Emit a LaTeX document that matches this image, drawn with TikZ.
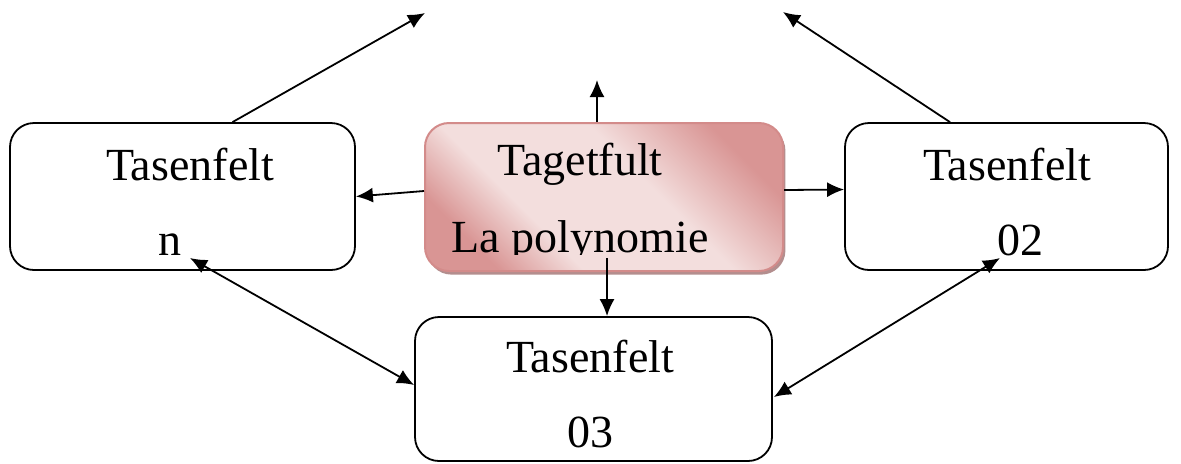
\documentclass[tikz,border=0pt]{standalone}
\usepackage{fontspec}
\setmainfont{Liberation Serif}
\usetikzlibrary{arrows.meta,calc,shadows}
\definecolor{roselight}{HTML}{F3DEDD}
\definecolor{rosedark}{HTML}{D99594}
\definecolor{roseline}{HTML}{D38B8A}
\definecolor{roseshadow}{HTML}{B38E8E}
\pgfdeclareverticalshading{rosefill}{100bp}{color(0bp)=(rosedark); color(25bp)=(rosedark);
  color(37bp)=(roselight); color(58bp)=(roselight); color(75bp)=(rosedark); color(100bp)=(rosedark)}
\tikzset{
  felt/.style={draw,line width=0.9pt,rounded corners=12pt,minimum height=73.5pt},
  fulltop/.style={draw=roseline,line width=1pt,rounded corners=12pt,minimum width=179pt,minimum height=74pt,
    shading=rosefill,shading angle=-45,
    drop shadow={shadow xshift=1.2pt,shadow yshift=-1.8pt,fill=roseshadow,opacity=1}},
  txt/.style={anchor=base,inner sep=0pt,font=\fontsize{23}{28}\selectfont}
}
\begin{document}
\begin{tikzpicture}[x=0.5pt,y=-0.5pt,line width=0.9pt,>={Latex[length=8.5pt,width=7.5pt]}]
\useasboundingbox (0,0) rectangle (1181,463);
\node[felt,minimum width=172.5pt] (lbox) at (182.5,196.5) {};
\node[felt,minimum width=161.5pt] (rbox) at (1006.5,196.5) {};
\node[felt,minimum width=178.5pt,minimum height=72pt] (bbox) at (593.5,389) {};
\node[fulltop] (cbox) at (604,197) {};
\node[txt] (ltxt) at (190,180) {Tasenfelt};
\node[txt] (ltxtn) at (170,255) {n};
\node[txt] (rtxt) at (1007,180) {Tasenfelt};
\node[txt] (rtxtn) at (1020,255) {02};
\node[txt] (btxt) at (590,372) {Tasenfelt};
\node[txt] (btxtn) at (590,447) {03};
\begin{scope}
\clip (cbox.north west) rectangle ($(cbox.south east)+(0,-18)$);
\node[txt] (ctxt) at (580,175) {Tagetfult};
\node[txt] (ctxtn) at (580,252) {La polynomie};
\end{scope}
\coordinate (lup) at (425,13);
\coordinate (rup) at (783,12);
\coordinate (ctop) at (597,80);
\coordinate (ntip) at (190,258);
\coordinate (tip02) at (1000,258);
\draw[->] ($(lbox.north)+(50,0)$)--(lup);
\draw[->] ($(rbox.north)+(-56.5,0)$)--(rup);
\draw[->] ($(cbox.north)+(-7,0)$)--(ctop);
\draw[->] ($(cbox.west)+(0,-6)$)--(lbox.east);
\draw[->] ($(cbox.east)+(0,-7)$)--($(rbox.west)+(0,-7)$);
\draw[->] ($(cbox.south)+(3,-14)$)--($(bbox.north)+(13.5,0)$);
\draw[<->] (ntip)--($(bbox.west)+(0,-4)$);
\draw[<->] (tip02)--($(bbox.east)+(1,8)$);
\end{tikzpicture}
\end{document}
